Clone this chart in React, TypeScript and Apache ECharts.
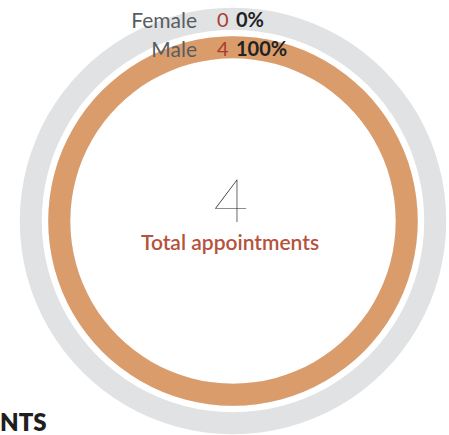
import React, { useEffect, useRef } from "react";
import * as echarts from "echarts";

const categories = ["Female", "Male"];
const values = [0, 4];
const percentLabels = ["0%", "100%"];
const centerTitle = "Total appointments";
const cutTitle = "NTS";

const FONT = "Lato, 'Open Sans', sans-serif";

export default function App() {
  const ref = useRef<HTMLDivElement>(null);
  useEffect(() => {
    const chart = echarts.init(ref.current!, null, { renderer: "svg" });
    const total = values.reduce((a, b) => a + b, 0);
    const cx = 233;
    const cy = 221;
    const labelY = [19, 48];
    const graphics: any[] = [];
    categories.forEach((c, i) => {
      graphics.push({
        type: "text",
        z: 100,
        x: 197,
        y: labelY[i],
        style: { text: c, fill: "#585d62", font: `400 21px ${FONT}`, align: "right", verticalAlign: "middle" },
      });
      graphics.push({
        type: "text",
        z: 100,
        x: 217,
        y: labelY[i],
        style: { text: String(values[i]), fill: "#a83d2d", font: `400 20px ${FONT}`, align: "left", verticalAlign: "middle" },
      });
      graphics.push({
        type: "text",
        z: 100,
        x: 236,
        y: labelY[i],
        style: { text: percentLabels[i], fill: "#222222", font: `700 20px ${FONT}`, align: "left", verticalAlign: "middle" },
      });
    });
    graphics.push({
      type: "text",
      z: 100,
      x: 231,
      y: 199,
      style: { text: String(total), fill: "#1a1a1a", font: `100 60px ${FONT}`, align: "center", verticalAlign: "middle" },
    });
    graphics.push({
      type: "text",
      z: 100,
      x: 230,
      y: 241,
      style: { text: centerTitle, fill: "#b5533b", font: `600 21px ${FONT}`, align: "center", verticalAlign: "middle" },
    });
    graphics.push({
      type: "text",
      z: 100,
      x: 0,
      y: 421,
      style: { text: cutTitle, fill: "#1f1f1f", font: `800 24px ${FONT}`, align: "left", verticalAlign: "middle" },
    });

    chart.setOption({
      animation: false,
      polar: { center: [cx, cy], radius: [159.5, 216.5] },
      angleAxis: { type: "value", min: 0, max: total, startAngle: 90, clockwise: true, show: false },
      radiusAxis: { type: "category", data: categories, inverse: true, show: false },
      series: [
        {
          type: "bar",
          coordinateSystem: "polar",
          data: values,
          barWidth: 22,
          showBackground: true,
          backgroundStyle: { color: "#e1e2e4" },
          itemStyle: { color: "#db9c6c" },
          silent: true,
          z: 1,
        },
      ],
      graphic: graphics,
    });
    return () => chart.dispose();
  }, []);
  return (
    <div
      ref={ref}
      style={{ position: "absolute", left: 0, top: 0, width: 449, height: 435, background: "#ffffff" }}
    />
  );
}
